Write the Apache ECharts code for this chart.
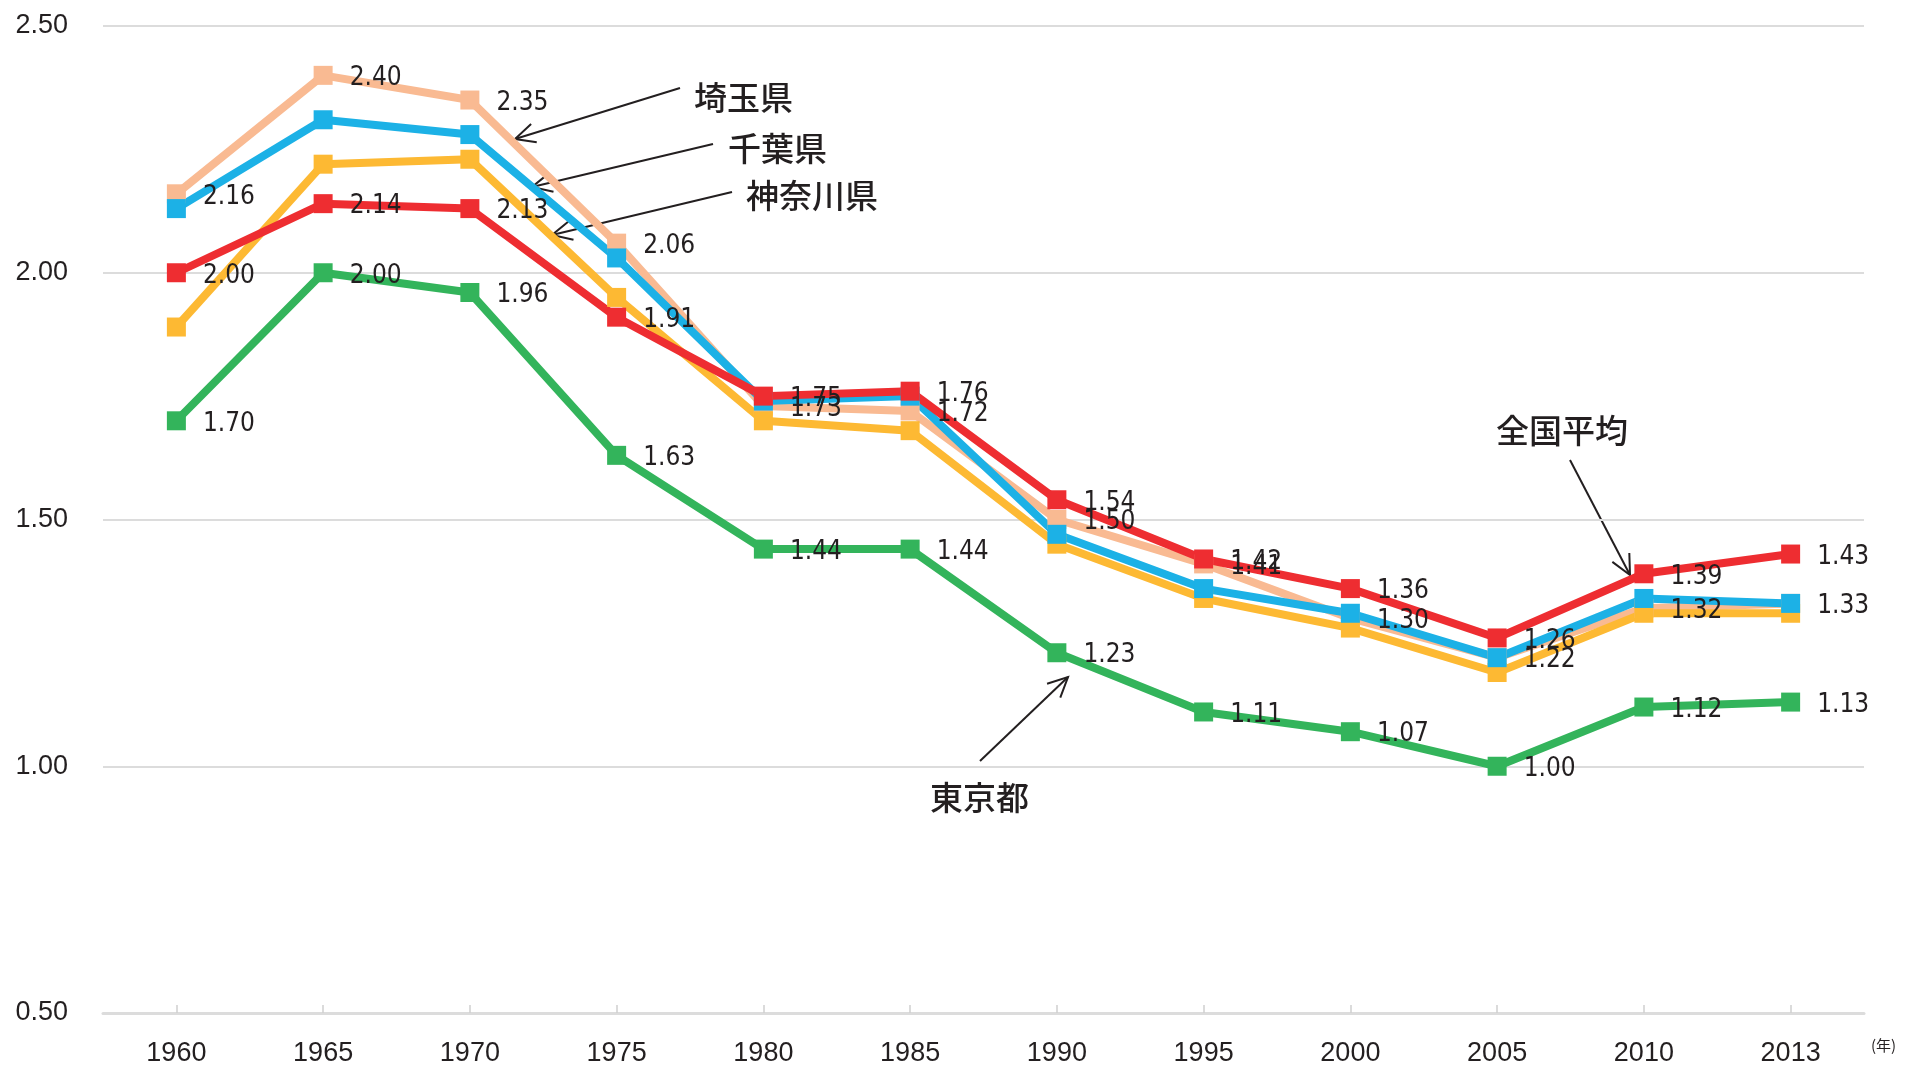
<!DOCTYPE html>
<html>
<head>
<meta charset="utf-8">
<script src="https://cdn.jsdelivr.net/npm/echarts@6/dist/echarts.min.js"></script>
<style>
html,body{margin:0;padding:0;background:#fff;}
#c{width:1906px;height:1067px;}
</style>
</head>
<body>
<div id="c"></div>
<script>
const years = ['1960','1965','1970','1975','1980','1985','1990','1995','2000','2005','2010','2013'];
const saitama  = [2.16, 2.40, 2.35, 2.06, 1.73, 1.72, 1.50, 1.41, 1.30, 1.22, 1.32, 1.33];
const kanagawa = [1.89, 2.22, 2.23, 1.95, 1.70, 1.68, 1.45, 1.34, 1.28, 1.19, 1.31, 1.31];
const chiba    = [2.13, 2.31, 2.28, 2.03, 1.74, 1.75, 1.47, 1.36, 1.31, 1.22, 1.34, 1.33];
const national = [2.00, 2.14, 2.13, 1.91, 1.75, 1.76, 1.54, 1.42, 1.36, 1.26, 1.39, 1.43];
const tokyo    = [1.70, 2.00, 1.96, 1.63, 1.44, 1.44, 1.23, 1.11, 1.07, 1.00, 1.12, 1.13];
const yTicks = [0.5, 1.0, 1.5, 2.0, 2.5];

const TXT = '#231F20';
const labelFont = "'Liberation Sans Narrow','Arial Narrow','DejaVu Sans Condensed',sans-serif";
const axisFont = "'Liberation Sans',Arial,sans-serif";
const cjk = "'Noto Sans CJK JP','Noto Sans CJK SC',sans-serif";

function mk(name, data, color, showLabel) {
  return {
    name, type: 'line', data,
    symbol: 'rect', symbolSize: 19,
    lineStyle: {color, width: 8},
    itemStyle: {color},
    animation: false,
    label: {
      show: showLabel, position: 'right', distance: 17, offset: [0, 3],
      color: TXT, fontSize: 26, fontFamily: labelFont,
      formatter: p => p.value.toFixed(2)
    }
  };
}

function arrow(x1, y1, x2, y2) {
  const ang = Math.atan2(y1 - y2, x1 - x2);
  const L = 22, a = 0.45;
  const p1 = [x2 + L * Math.cos(ang + a), y2 + L * Math.sin(ang + a)];
  const p2 = [x2 + L * Math.cos(ang - a), y2 + L * Math.sin(ang - a)];
  return [
    {type: 'line', shape: {x1, y1, x2, y2}, style: {stroke: TXT, lineWidth: 2}, silent: true},
    {type: 'polyline', shape: {points: [p1, [x2, y2], p2]}, style: {stroke: TXT, lineWidth: 2, fill: null}, silent: true}
  ];
}
function ann(text, x, y) {
  return {type: 'text', x, y, style: {text, fill: TXT, font: "500 33px " + cjk, textVerticalAlign: 'middle'}, silent: true};
}

const chart = echarts.init(document.getElementById('c'), null, {renderer: 'canvas'});
chart.setOption({
  backgroundColor: '#fff',
  animation: false,
  grid: {left: 103, right: 42, top: 26, bottom: 50},
  xAxis: {
    type: 'category', data: years, boundaryGap: true,
    axisLine: {lineStyle: {color: '#DCDCDC', width: 3}},
    axisTick: {show: true, alignWithLabel: true, inside: true, length: 8, lineStyle: {color: '#D0D0D0', width: 1.5}},
    axisLabel: {color: TXT, fontSize: 27, fontFamily: axisFont, margin: 27}
  },
  yAxis: {
    type: 'value', min: yTicks[0], max: yTicks[yTicks.length - 1], interval: 0.5,
    axisLine: {show: false}, axisTick: {show: false},
    splitLine: {lineStyle: {color: '#DCDCDC', width: 2}},
    axisLabel: {color: TXT, fontSize: 27, fontFamily: axisFont, margin: 35, formatter: v => v.toFixed(2)}
  },
  series: [
    mk('埼玉県', saitama, '#F9BA92', true),
    mk('神奈川県', kanagawa, '#FDB933', false),
    mk('千葉県', chiba, '#1CB1E6', false),
    mk('全国平均', national, '#EE2D31', true),
    mk('東京都', tokyo, '#33B45B', true)
  ],
  graphic: [].concat(
    arrow(680, 88, 515, 139),
    arrow(713, 144, 532, 187),
    arrow(732, 192, 552, 235),
    arrow(980, 761, 1068, 677),
    arrow(1570, 460, 1630, 575),
    [
      ann('埼玉県', 694, 97),
      ann('千葉県', 728, 148),
      ann('神奈川県', 746, 195),
      ann('東京都', 930, 797),
      ann('全国平均', 1496, 430),
      {type: 'text', x: 1871, y: 1045, style: {text: '(年)', fill: TXT, font: "15px " + cjk, textVerticalAlign: 'middle'}, silent: true}
    ]
  )
});
</script>
</body>
</html>
